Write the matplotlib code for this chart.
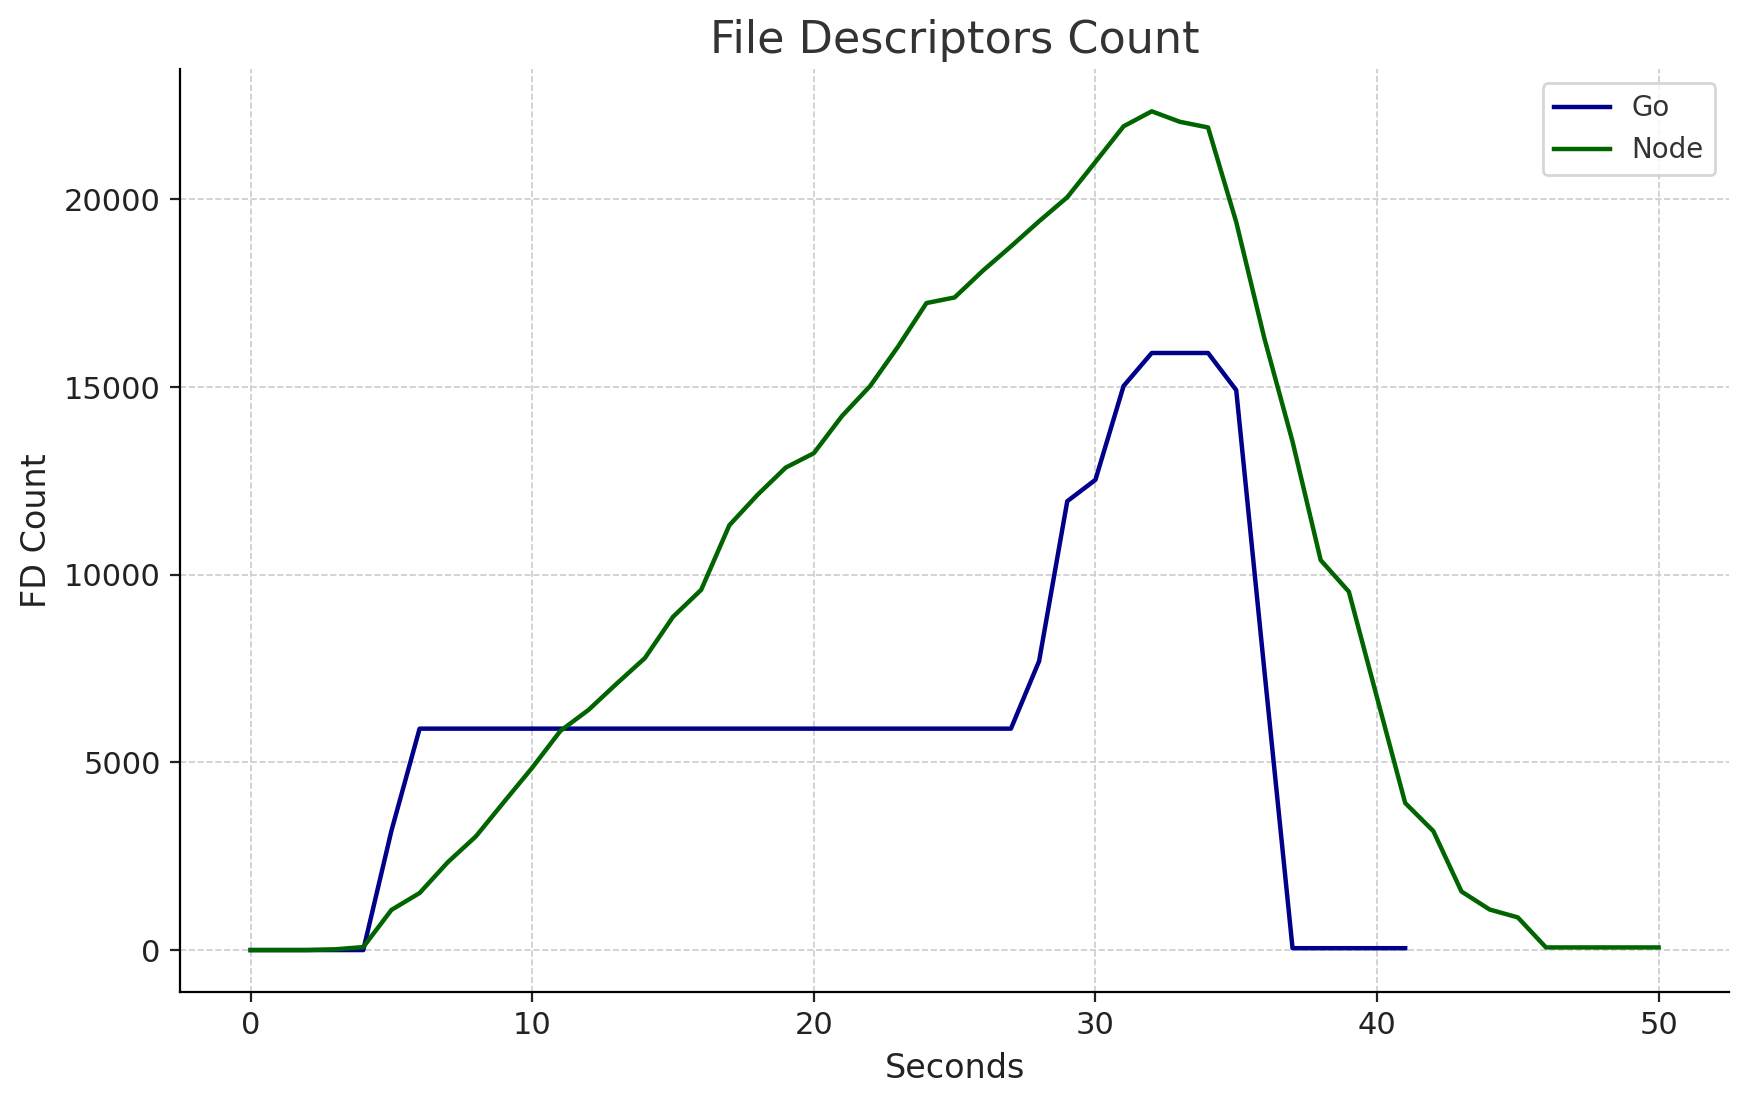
import matplotlib
matplotlib.use("Agg")
import matplotlib.pyplot as plt

seconds_go = list(range(0, 42))
go_fd = [0, 0, 0, 0, 0, 3180, 5900, 5900, 5900, 5900,
         5900, 5900, 5900, 5900, 5900, 5900, 5900, 5900, 5900, 5900,
         5900, 5900, 5900, 5900, 5900, 5900, 5900, 5900, 7700, 11960,
         12530, 15030, 15910, 15910, 15910, 14920, 7450, 50, 50, 50,
         50, 50]

seconds_node = list(range(0, 51))
node_fd = [0, 0, 0, 20, 80, 1070, 1520, 2340, 3030, 3950,
           4860, 5840, 6400, 7100, 7780, 8880, 9600, 11320, 12130, 12855,
           13240, 14230, 15030, 16090, 17240, 17390, 18100, 18750, 19420, 20060,
           21000, 21950, 22350, 22070, 21920, 19400, 16300, 13550, 10390, 9550,
           6730, 3920, 3170, 1560, 1080, 870, 70, 70, 70, 70,
           70]

plt.rcParams['font.family'] = ['DejaVu Sans']
fig = plt.figure(figsize=(8.75, 5.505), dpi=200)
ax = fig.add_axes([0.103, 0.099, 0.885, 0.838])

ax.plot(seconds_go, go_fd, color='#00008B', lw=1.6, label='Go')
ax.plot(seconds_node, node_fd, color='#006400', lw=1.6, label='Node')

ax.set_title('File Descriptors Count', fontsize=16, color='#333333')
ax.set_xlabel('Seconds', fontsize=12, color='#222222')
ax.set_ylabel('FD Count', fontsize=12, color='#222222')
ax.tick_params(labelsize=11, colors='#222222')
ax.set_xticks([0, 10, 20, 30, 40, 50])
ax.set_yticks([0, 5000, 10000, 15000, 20000])
ax.grid(True, linestyle='--', color='#cccccc', lw=0.6)
ax.set_axisbelow(True)
for s in ['top', 'right']:
    ax.spines[s].set_visible(False)
leg = ax.legend(loc='upper right', fontsize=10, frameon=True, fancybox=True)
leg.get_frame().set_edgecolor('#cccccc')
for t in leg.get_texts():
    t.set_color('#333333')

fig.savefig('out.png', dpi=200)
